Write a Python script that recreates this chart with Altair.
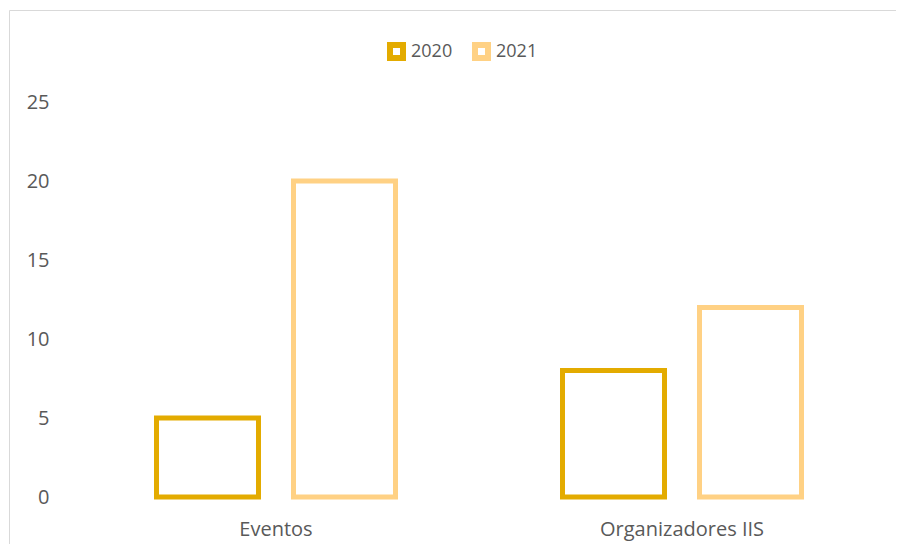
import altair as alt
import pandas as pd

categories = ["Eventos", "Eventos", "Organizadores IIS", "Organizadores IIS"]
years = ["2020", "2021", "2020", "2021"]
values = [5, 20, 8, 12]

year_domain = ["2020", "2021"]
year_colors = ["#E3AB00", "#FFD184"]
y_ticks = [0, 5, 10, 15, 20, 25]

df = pd.DataFrame({"cat": categories, "year": years, "value": values})

FONT = "Open Sans"
TEXT = "#595959"

bars = alt.Chart(df).mark_bar(filled=False, strokeWidth=5, strokeJoin="miter").encode(
    x=alt.X("cat:N", sort=["Eventos", "Organizadores IIS"],
            scale=alt.Scale(paddingInner=0, paddingOuter=0),
            axis=alt.Axis(title=None, labelAngle=0, ticks=False, domain=False,
                          labelFontSize=20, labelFont=FONT, labelColor=TEXT,
                          labelPadding=22)),
    xOffset=alt.XOffset("year:N", scale=alt.Scale(domain=year_domain,
                                                   paddingInner=0.2555,
                                                   paddingOuter=0.6095)),
    y=alt.Y("value:Q", scale=alt.Scale(domain=[0, 25], nice=False),
            axis=alt.Axis(title=None, values=y_ticks, ticks=False, domain=False,
                          grid=False, labelFontSize=20, labelFont=FONT,
                          labelColor=TEXT, labelPadding=24)),
    color=alt.Color("year:N", scale=alt.Scale(domain=year_domain, range=year_colors),
                    legend=alt.Legend(title=None, orient="none", direction="horizontal",
                                      legendX=314, legendY=-60,
                                      symbolType="square", symbolSize=169,
                                      symbolStrokeWidth=6, labelFontSize=18,
                                      labelFont=FONT, labelColor=TEXT,
                                      labelOffset=5, columnPadding=10)),
)

border = alt.Chart(alt.Data(values=[{"a": 1}])).mark_rect(
    fill="transparent", stroke="#D9D9D9", strokeWidth=1
).encode(
    x=alt.value(-63.5), x2=alt.value(900), y=alt.value(-91.5), y2=alt.value(500)
)

chart = alt.layer(border, bars).properties(
    width=812, height=395,
    autosize=alt.AutoSizeParams(type="none"),
    padding={"left": 65, "top": 94, "right": 11, "bottom": 47},
).configure(background="white").configure_view(stroke="transparent")

chart.save("out.html", embed_options={"renderer": "svg", "actions": False})
